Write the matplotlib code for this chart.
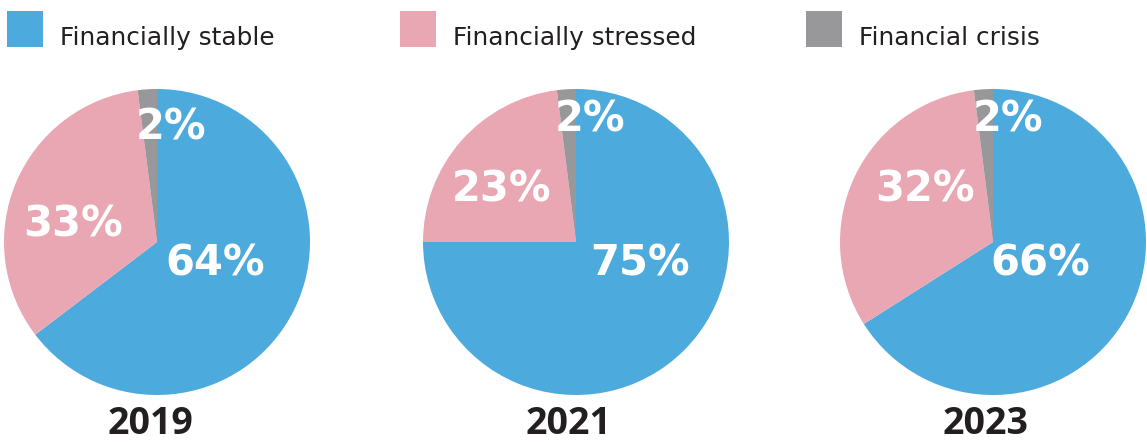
import matplotlib
matplotlib.use("Agg")
import matplotlib.pyplot as plt
from matplotlib.patches import Rectangle

years = ["2019", "2021", "2023"]
categories = ["Financially stable", "Financially stressed", "Financial crisis"]
stable = [64, 75, 66]
stressed = [33, 23, 32]
crisis = [2, 2, 2]

colors = ["#4DAADC", "#E8A7B2", "#98989A"]
dark = "#231F20"

W, H = 1147, 444
fig = plt.figure(figsize=(W / 100, H / 100), dpi=100)
ax = fig.add_axes([0, 0, 1, 1])

# pie centres in pixel space (y measured from the bottom)
centres = [(157, 202), (576, 202), (993, 202)]
radius = 153
# where each percentage label sits relative to its pie centre
label_offsets = [
    [(58, -21), (-84, 17), (14, 114)],
    [(64, -21), (-74, 52), (14, 122)],
    [(47, -21), (-68, 52), (15, 122)],
]

for i, year in enumerate(years):
    vals = [stable[i], stressed[i], crisis[i]]
    cx, cy = centres[i]
    ax.pie(vals, colors=colors, startangle=90, counterclock=False,
           center=(cx, cy), radius=radius, frame=True,
           wedgeprops=dict(linewidth=0))
    for v, (dx, dy) in zip(vals, label_offsets[i]):
        ax.text(cx + dx, cy + dy, f"{v}%", color="white", fontsize=30,
                fontweight="bold", family="DejaVu Sans", ha="center", va="center")
    ax.text(cx - 7, 1, year, color=dark, fontsize=27, fontweight="bold",
            family="Open Sans", ha="center", va="bottom")

# legend row across the top
legend_x = [7, 400, 806]
for x, name, c in zip(legend_x, categories, colors):
    ax.add_patch(Rectangle((x, H - 47), 36, 36, color=c, linewidth=0))
    ax.text(x + 53, H - 38, name, color=dark, fontsize=17.8,
            family="DejaVu Sans", ha="left", va="center")

ax.set_xlim(0, W)
ax.set_ylim(0, H)
ax.set_aspect("equal")
ax.axis("off")

fig.savefig("out.png", dpi=100)
